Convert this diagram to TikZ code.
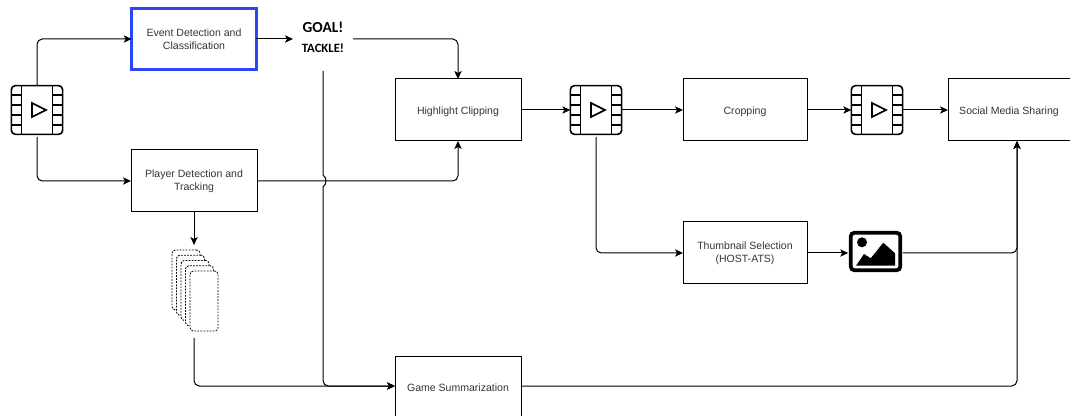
\documentclass[tikz,border=0pt]{standalone}
\usepackage{fontspec}
\setmainfont{Liberation Sans}
\newfontfamily\shoutfont{Carlito}
\usepackage{xcolor}
\usetikzlibrary{arrows.meta,positioning,calc}
\definecolor{accent}{HTML}{2A46F5}
\definecolor{boxtext}{HTML}{333333}
\tikzset{
  block/.style={draw,line width=0.75pt,minimum width=94.5pt,minimum height=46.5pt,outer sep=0pt,
    align=center,text=boxtext,font=\fontsize{7.9}{9.8}\selectfont,execute at begin node={\rule{0pt}{8pt}}},
  link/.style={line width=0.75pt,rounded corners=4pt,-{Stealth[length=6pt,width=5.5pt,inset=1.5pt]}},
  frameclip/.style={draw,dash pattern=on 1.3pt off 1pt,line width=0.65pt,fill=white,rounded corners=2.5pt,
    minimum width=21pt,minimum height=45pt,outer sep=0pt},
  filmbox/.style={draw,line width=1.2pt,rounded corners=3pt,minimum width=38.5pt,minimum height=36.5pt,outer sep=0pt},
  shout/.style={inner sep=0pt,outer sep=0pt,font=\shoutfont\bfseries},
  filmicon/.pic={
    \draw[line width=1.2pt] (-15.5,-24.5) -- (-15.5,24.5) (15.5,-24.5) -- (15.5,24.5);
    \foreach \yy in {-15,-5,5,15} {
      \draw[line width=1.2pt] (-26,\yy) -- (-15.5,\yy) (15.5,\yy) -- (26,\yy);
    }
    \draw[line width=1.2pt] (-5,-7) -- (9,0) -- (-5,7) -- cycle;
  }
}
\begin{document}
\begin{tikzpicture}[x=0.75pt,y=-0.75pt]
  \useasboundingbox (0,0) rectangle (1070,416);
  % processing blocks
  \node[block,draw=accent,line width=1.8pt,minimum width=93.5pt,minimum height=46pt] (event) at (194,39) {Event Detection and\\Classification};
  \node[block] (player) at (194,181) {Player Detection and\\Tracking};
  \node[block] (highlight) at (458,110) {Highlight Clipping};
  \node[block,minimum width=93pt] (cropping) at (745,110) {Cropping};
  \node[block,minimum width=91.5pt] (social) at (1009,110) {Social Media Sharing};
  \node[block,minimum width=93pt] (thumb) at (745,253) {Thumbnail Selection\\(HOST-ATS)};
  \node[block,minimum height=45pt] (summary) at (458,386) {Game Summarization};
  % event labels
  \node[shout,font=\shoutfont\bfseries\fontsize{11.5}{14}\selectfont] (goal) at (323,27) {GOAL!};
  \node[shout,font=\shoutfont\bfseries\fontsize{9.5}{11}\selectfont] (tackle) at (323,48) {TACKLE!};
  \coordinate (labelIn) at (293,39);
  \coordinate (labelOut) at (353,39);
  \coordinate (labelDown) at (323,71);
  % video icons
  \node[filmbox] (clipIn) at (37,110) {};
  \pic at (clipIn) {filmicon};
  \node[filmbox] (clipMid) at (596,110) {};
  \pic at (clipMid) {filmicon};
  \node[filmbox] (clipOut) at (877,110) {};
  \pic at (clipOut) {filmicon};
  % thumbnail icon
  \node[draw,line width=2.8pt,rounded corners=2.5pt,minimum width=37pt,minimum height=28pt,outer sep=2pt] (image) at (875.5,251.5) {};
  \fill ($(image)+(-13.5,-9.2)$) circle(5);
  \fill ($(image)+(-19.5,14.2)$) -- ++(8,-11.7) -- ++(6.7,4.3) -- ++(12.6,-15.6) -- ++(11.7,10.6) -- ++(0,12.4) -- cycle;
  % player frames
  \foreach \i in {0,...,4} {
    \node[frameclip] (frame\i) at ({186+4.5*\i},{280+5.25*\i}) {};
  }
  \coordinate (frameIn) at (194,245);
  \coordinate (frameOut) at (194,338);
  \coordinate (socialIn) at (1017,141);
  \coordinate (hopA) at (323,175);
  \coordinate (hopB) at (323,187);
  % connectors
  \draw[link] (clipIn.north) |- (event.west);
  \draw[link,shorten <=2pt] (clipIn.south) |- (player.west);
  \draw[link] (event.east) -- (labelIn);
  \draw[link] (labelOut) -| (highlight.north);
  \draw[link] (player.east) -| (highlight.south);
  \draw[link] (player.south) -- (frameIn);
  \draw[link] (frameOut) |- (summary.west);
  \draw[line width=0.75pt] (labelDown) -- (hopA) .. controls (327,178) and (327,184) .. (hopB);
  \draw[link] (hopB) |- (summary.west);
  \draw[link] (highlight.east) -- (clipMid.west);
  \draw[link] (clipMid.east) -- (cropping.west);
  \draw[link,shorten <=2pt] (clipMid.south) |- (thumb.west);
  \draw[link] (cropping.east) -- (clipOut.west);
  \draw[link] (clipOut.east) -- (social.west);
  \draw[link] (thumb.east) -- (thumb.east -| image.west);
  \draw[link] (image.east |- thumb.east) -| (socialIn);
  \draw[link] (summary.east) -| (socialIn);
\end{tikzpicture}
\end{document}
